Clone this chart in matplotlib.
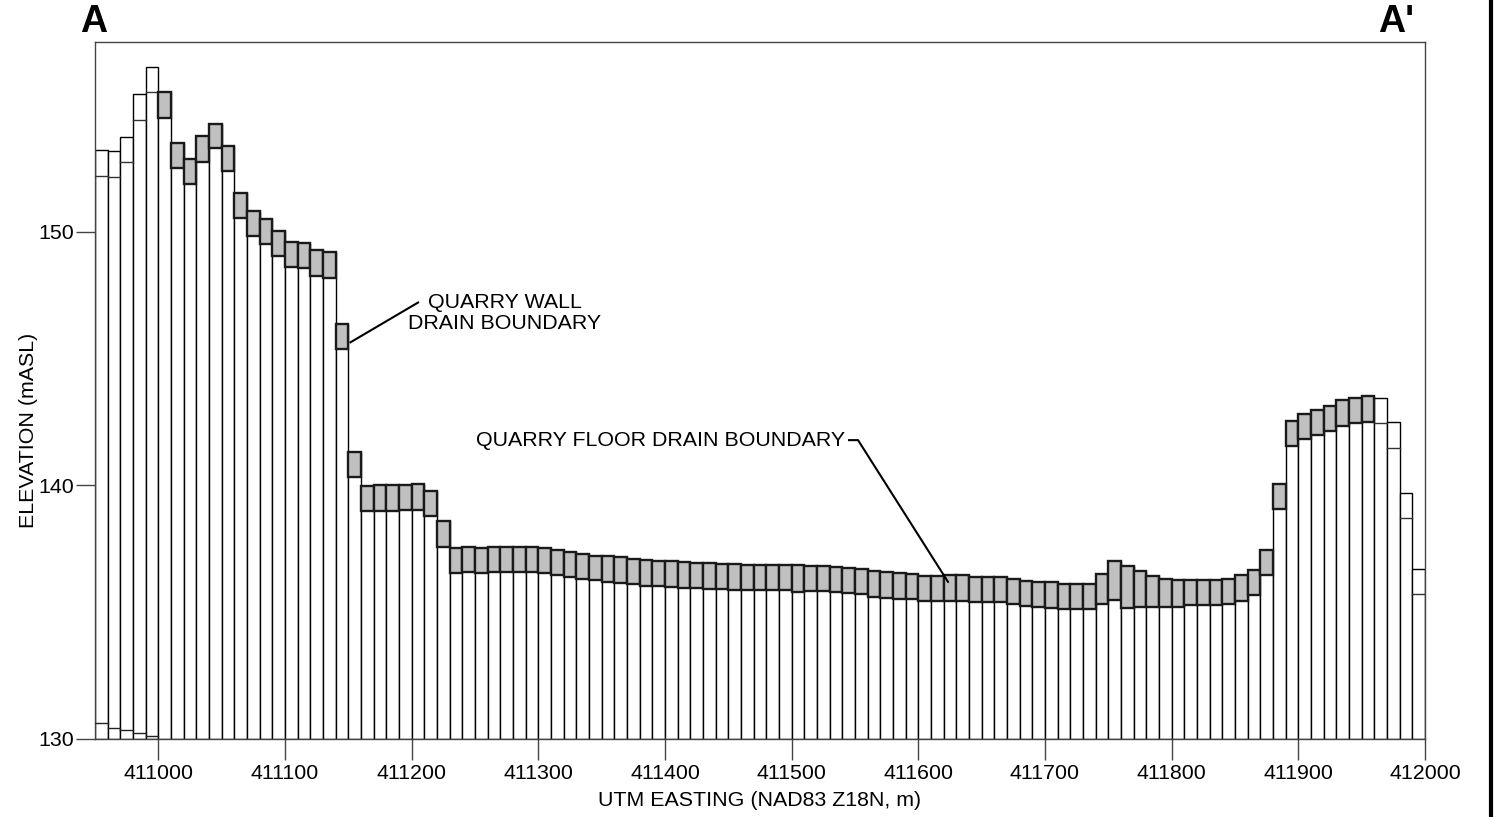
import numpy as np
import matplotlib
matplotlib.use("Agg")
import matplotlib.pyplot as plt
from matplotlib.lines import Line2D

plt.rcParams['font.family'] = ['Liberation Sans', 'DejaVu Sans']

# model grid columns along section A-A' (10 m cells)
col_left = np.arange(410950, 412000, 10)

# top of layer 1 (ground surface) per column, mASL
top_elev = [153.21, 153.17, 153.75, 155.42, 156.50, 155.50, 153.49, 152.87, 153.78, 154.26,
            153.39, 151.54, 150.82, 150.51, 150.04, 149.61, 149.57, 149.28, 149.19, 146.37,
            141.32, 139.98, 140.00, 140.00, 140.02, 140.03, 139.77, 138.59, 137.53, 137.57,
            137.53, 137.57, 137.57, 137.57, 137.57, 137.51, 137.44, 137.35, 137.29, 137.22,
            137.22, 137.15, 137.10, 137.06, 137.02, 137.00, 136.96, 136.95, 136.92, 136.91,
            136.88, 136.87, 136.86, 136.86, 136.86, 136.84, 136.83, 136.80, 136.79, 136.75,
            136.69, 136.60, 136.58, 136.52, 136.51, 136.43, 136.41, 136.45, 136.45, 136.38,
            136.38, 136.39, 136.31, 136.23, 136.19, 136.17, 136.12, 136.09, 136.09, 136.51,
            137.02, 136.83, 136.60, 136.42, 136.30, 136.25, 136.26, 136.26, 136.26, 136.30,
            136.44, 136.67, 137.44, 140.05, 142.54, 142.82, 142.98, 143.14, 143.35, 143.45,
            143.51, 143.44, 142.48, 139.68, 136.71]

# bottom of layer 1 per column, mASL
layer1_bot = [152.21, 152.17, 152.75, 154.42, 155.51, 154.49, 152.50, 151.87, 152.76, 153.29,
              152.38, 150.54, 149.83, 149.53, 149.04, 148.61, 148.56, 148.26, 148.19, 145.38,
              140.34, 138.97, 138.97, 138.97, 139.01, 139.02, 138.77, 137.57, 136.53, 136.57,
              136.55, 136.58, 136.58, 136.58, 136.57, 136.52, 136.45, 136.37, 136.30, 136.25,
              136.19, 136.14, 136.09, 136.04, 136.01, 135.97, 135.93, 135.93, 135.92, 135.90,
              135.88, 135.87, 135.87, 135.87, 135.87, 135.78, 135.83, 135.81, 135.78, 135.75,
              135.70, 135.60, 135.55, 135.52, 135.51, 135.44, 135.42, 135.44, 135.44, 135.38,
              135.38, 135.40, 135.33, 135.22, 135.18, 135.17, 135.12, 135.11, 135.11, 135.33,
              135.46, 135.16, 135.20, 135.21, 135.18, 135.18, 135.26, 135.26, 135.26, 135.30,
              135.44, 135.67, 136.46, 139.05, 141.55, 141.81, 141.98, 142.14, 142.35, 142.47,
              142.49, 142.45, 141.48, 138.71, 135.70]

# 1 = drain cell in layer 1
drain = [0] * 5 + [1] * 96 + [0] * 4

# deeper layer bottoms visible in the first columns
deep_bot = [130.61, 130.43, 130.33, 130.21, 130.12]

col_w = 10
base = 130

fig = plt.figure(figsize=(14.95, 8.17), dpi=100)
ax = fig.add_axes([95 / 1495, 1 - 738.7 / 817, 1330 / 1495, 697 / 817])

top = np.array(top_elev)
bot1 = np.array(layer1_bot)
is_drain = np.array(drain) == 1

# full columns
ax.bar(col_left, top - base, bottom=base, width=col_w, align='edge',
       facecolor='white', edgecolor='black', linewidth=1.0, zorder=2)

# layer 1 line on non-drain columns
for xl, b in zip(col_left[~is_drain], bot1[~is_drain]):
    ax.plot([xl, xl + col_w], [b, b], color='#333333', lw=1.0, zorder=3)

# deeper layer lines
for xl, b in zip(col_left[:len(deep_bot)], deep_bot):
    ax.plot([xl, xl + col_w], [b, b], color='#222222', lw=1.0, zorder=3)

# drain cells
ax.bar(col_left[is_drain], (top - bot1)[is_drain], bottom=bot1[is_drain], width=col_w,
       align='edge', facecolor='#c0c0c0', edgecolor='#1a1a1a', linewidth=1.7, zorder=4)

ax.set_xlim(410950, 412000)
ax.set_ylim(130, 157.5)
ax.set_xticks(np.arange(411000, 412001, 100))
ax.set_yticks([130, 140, 150])
ax.tick_params(axis='x', length=15, width=1, color='#444444', pad=3, labelsize=15.4)
ax.tick_params(axis='y', length=14, width=1, color='#444444', pad=1, labelsize=15.4)
for s in ax.spines.values():
    s.set_color('#444444')
    s.set_linewidth(1.0)

# annotations
ax.text(411273.6, 146.81, 'QUARRY WALL\nDRAIN BOUNDARY', ha='center', va='center',
        fontsize=15.4, linespacing=1.15)
ax.plot([411205.1, 411151.7], [147.21, 145.64], color='black', lw=1.5, zorder=5)

ax.text(411250.7, 141.76, 'QUARRY FLOOR DRAIN BOUNDARY', ha='left', va='center', fontsize=15.4)
ax.plot([411545.3, 411552.4, 411623.4], [141.78, 141.78, 136.19], color='black', lw=1.5, zorder=5)

fig.text(29 / 1495, 1 - 430 / 817, 'ELEVATION (mASL)', rotation=90, ha='center', va='center',
         fontsize=15.4)
fig.text(760 / 1495, 1 - 801 / 817, 'UTM EASTING (NAD83 Z18N, m)', ha='center', va='center',
         fontsize=15.4)

fig.text(80 / 1495, 1 - 22 / 817, 'A', ha='left', va='center', fontsize=27, fontweight='bold')
fig.text(1378 / 1495, 1 - 22 / 817, "A'", ha='left', va='center', fontsize=27, fontweight='bold')

fig.add_artist(Line2D([1491 / 1495, 1491 / 1495], [0, 1], color='black', lw=3,
                      transform=fig.transFigure))

fig.savefig('out.png', dpi=100)
